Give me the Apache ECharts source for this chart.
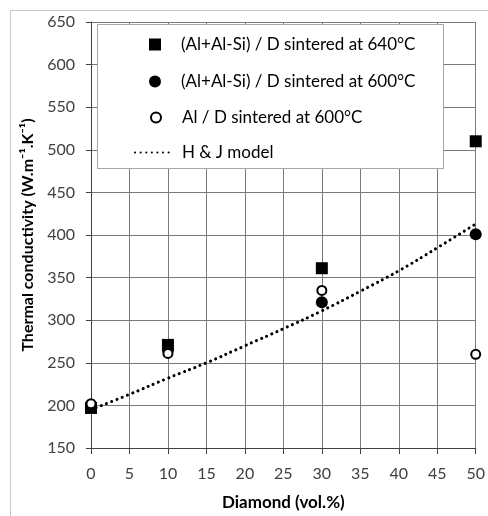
<!DOCTYPE html>
<html><head><meta charset="utf-8">
<script src="https://cdn.jsdelivr.net/npm/echarts@6/dist/echarts.min.js"></script>
<style>html,body{margin:0;padding:0;background:#fff}#c{width:488px;height:516px}</style>
</head><body><div id="c"></div>
<script>
var xTicks = [0,5,10,15,20,25,30,35,40,45,50];
var diamond = [0, 10, 30, 50];
var alSi640 = [197, 271, 361, 510];
var alSi600 = [198, 265, 321, 401];
var al600 = [202, 261, 335, 260];
var modelX = [0, 5, 10, 15, 20, 25, 30, 35, 40, 45, 50];
var modelY = [195, 213, 232, 250, 270, 290, 311, 334, 358, 385, 413];
var names = ['(Al+Al-Si) / D sintered at 640°C', '(Al+Al-Si) / D sintered at 600°C', 'Al / D sintered at 600°C', 'H & J model'];

function pairs(xs, ys){ return xs.map(function(x,i){ return [x, ys[i]]; }); }
var FONT = 'Lato';
var sq = 'path://M0,0L10,0L10,10L0,10Z';
var chart = echarts.init(document.getElementById('c'), null, {renderer:'canvas'});
function leg(i, left, top, w, h, icon, padL, extra){
  var d = {name: names[i]}; if (icon) d.icon = icon;
  if (extra) for (var k in extra) d[k] = extra[k];
  return {data:[d], left: left, top: top, itemWidth: w, itemHeight: h, itemGap: 0, padding: 0,
    textStyle:{fontFamily:FONT, fontSize:17, color:'#000', padding:[0,0,0,padL]}, selectedMode:false, z: 10};
}
chart.setOption({
  animation:false,
  graphic:[
    {type:'rect', shape:{x:10.5,y:10.5,width:490,height:520}, style:{fill:'none', stroke:'#c8c8c8', lineWidth:1}, z:-10},
    {type:'rect', shape:{x:97.5,y:24.5,width:346,height:144}, style:{fill:'#fff', stroke:'#a6a6a6', lineWidth:1}, z:5}
  ],
  legend:[
    leg(0, 149, 36, 12, 12, sq, 15),
    leg(1, 149, 73, 12, 12, null, 15),
    leg(2, 150, 109, 10, 10, null, 16),
    leg(3, 134, 144, 38, 12, null, 4, {itemStyle:{opacity:0}})
  ],
  grid:{left:91, right:8, top:22, bottom:67, containLabel:false},
  xAxis:{type:'value', min:0, max:50, interval:5,
    axisLine:{show:true, onZero:false, lineStyle:{color:'#404040', width:1}},
    axisTick:{show:true, length:6, lineStyle:{color:'#404040'}},
    splitLine:{show:true, lineStyle:{color:'#7a7a7a', width:1}},
    axisLabel:{fontFamily:FONT, fontSize:16, color:'#404040', margin:18},
    name:'Diamond (vol.%)', nameLocation:'middle', nameGap:46,
    nameTextStyle:{fontFamily:FONT, fontSize:17, fontWeight:'bold', color:'#000'}},
  yAxis:{type:'value', min:150, max:650, interval:50,
    axisLine:{show:true, lineStyle:{color:'#404040', width:1}},
    axisTick:{show:true, length:5, lineStyle:{color:'#404040'}},
    splitLine:{show:true, lineStyle:{color:'#7a7a7a', width:1}},
    axisLabel:{fontFamily:FONT, fontSize:16, color:'#404040', margin:16},
    name:'Thermal conductivity (W.m⁻¹.K⁻¹)', nameLocation:'middle', nameGap:36,
    nameTextStyle:{fontFamily:FONT, fontSize:16, fontWeight:'bold', color:'#000'}},
  series:[
    {name:names[0], type:'scatter', data:pairs(diamond, alSi640), symbol:sq, symbolSize:12,
      itemStyle:{color:'#000', opacity:1}, z:4},
    {name:names[1], type:'scatter', data:pairs(diamond, alSi600), symbol:'circle', symbolSize:12,
      itemStyle:{color:'#000', opacity:1}, z:3},
    {name:names[2], type:'scatter', data:pairs(diamond, al600), symbol:'circle', symbolSize:9,
      itemStyle:{color:'#fff', borderColor:'#000', borderWidth:2, opacity:1}, z:5},
    {name:names[3], type:'line', data:pairs(modelX, modelY), symbol:'none', smooth:true,
      lineStyle:{color:'#000', width:3, type:[0.1,5.5], cap:'round'}, z:2}
  ]
});
</script></body></html>
